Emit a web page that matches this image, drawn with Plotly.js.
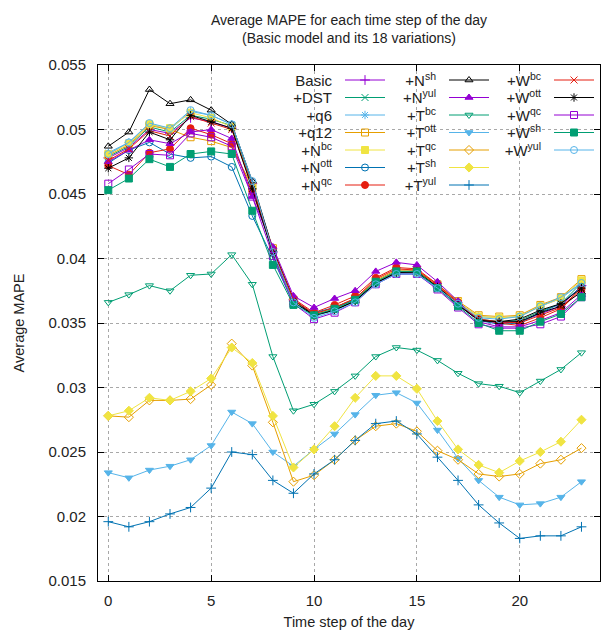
<!DOCTYPE html>
<html>
<head>
<meta charset="utf-8">
<script src="https://cdn.plot.ly/plotly-3.0.1.min.js"></script>
<style>
  html, body { margin: 0; padding: 0; background: #fff; }
  #chart { width: 614px; height: 630px; }
</style>
</head>
<body>
<div id="chart"></div>
<script>
// Time steps of the day
const hours = [0, 1, 2, 3, 4, 5, 6, 7, 8, 9, 10, 11, 12, 13, 14, 15, 16, 17, 18, 19, 20, 21, 22, 23];

// Average MAPE per time step for the basic model and its variations
const basic = [0.0478, 0.0486, 0.0500, 0.0497, 0.0509, 0.0506, 0.0501, 0.0458, 0.0405, 0.0368, 0.0357, 0.0362, 0.0369, 0.0382, 0.0390, 0.0390, 0.0378, 0.0364, 0.0352, 0.0350, 0.0351, 0.0357, 0.0363, 0.0379];
const dst   = [0.0479, 0.0487, 0.0502, 0.0498, 0.0511, 0.0508, 0.0503, 0.0457, 0.0404, 0.0367, 0.0356, 0.0361, 0.0368, 0.0382, 0.0390, 0.0390, 0.0378, 0.0365, 0.0353, 0.0351, 0.0352, 0.0359, 0.0365, 0.0381];
const q6    = [0.0482, 0.0490, 0.0504, 0.0500, 0.0514, 0.0511, 0.0504, 0.0459, 0.0406, 0.0368, 0.0355, 0.0360, 0.0367, 0.0381, 0.0389, 0.0389, 0.0378, 0.0366, 0.0355, 0.0354, 0.0355, 0.0363, 0.0369, 0.0381];
const q12   = [0.0480, 0.0488, 0.0503, 0.0500, 0.0494, 0.0491, 0.0486, 0.0456, 0.0408, 0.0368, 0.0356, 0.0362, 0.0369, 0.0383, 0.0391, 0.0391, 0.0380, 0.0367, 0.0356, 0.0355, 0.0356, 0.0364, 0.0370, 0.0384];
const nBc   = [0.0481, 0.0489, 0.0504, 0.0501, 0.0513, 0.0509, 0.0502, 0.0455, 0.0405, 0.0367, 0.0357, 0.0361, 0.0368, 0.0382, 0.0390, 0.0390, 0.0379, 0.0366, 0.0355, 0.0354, 0.0355, 0.0363, 0.0369, 0.0383];
const nOtt  = [0.0474, 0.0484, 0.0490, 0.0481, 0.0478, 0.0479, 0.0471, 0.0433, 0.0400, 0.0365, 0.0358, 0.0362, 0.0368, 0.0381, 0.0388, 0.0388, 0.0377, 0.0364, 0.0352, 0.0349, 0.0350, 0.0358, 0.0365, 0.0378];
const nQc   = [0.0472, 0.0465, 0.0482, 0.0485, 0.0501, 0.0496, 0.0489, 0.0452, 0.0407, 0.0369, 0.0358, 0.0364, 0.0371, 0.0385, 0.0393, 0.0392, 0.0380, 0.0366, 0.0353, 0.0350, 0.0348, 0.0354, 0.0361, 0.0376];
const nSh   = [0.0487, 0.0498, 0.0531, 0.0520, 0.0523, 0.0515, 0.0504, 0.0460, 0.0407, 0.0368, 0.0356, 0.0360, 0.0367, 0.0381, 0.0389, 0.0389, 0.0378, 0.0365, 0.0352, 0.0351, 0.0351, 0.0358, 0.0363, 0.0374];
const nYul  = [0.0475, 0.0484, 0.0492, 0.0489, 0.0498, 0.0500, 0.0493, 0.0448, 0.0409, 0.0371, 0.0362, 0.0369, 0.0375, 0.0390, 0.0397, 0.0395, 0.0382, 0.0367, 0.0351, 0.0347, 0.0347, 0.0352, 0.0358, 0.0372];
const tBc   = [0.0366, 0.0372, 0.0379, 0.0375, 0.0387, 0.0388, 0.0403, 0.0380, 0.0324, 0.0282, 0.0287, 0.0297, 0.0309, 0.0324, 0.0331, 0.0329, 0.0321, 0.0311, 0.0303, 0.0301, 0.0296, 0.0305, 0.0314, 0.0327];
const tOtt  = [0.0234, 0.0230, 0.0236, 0.0239, 0.0244, 0.0255, 0.0281, 0.0272, 0.0250, 0.0239, 0.0252, 0.0264, 0.0279, 0.0294, 0.0296, 0.0288, 0.0267, 0.0245, 0.0228, 0.0215, 0.0209, 0.0210, 0.0215, 0.0227];
const tQc   = [0.0278, 0.0277, 0.0290, 0.0290, 0.0291, 0.0302, 0.0334, 0.0317, 0.0273, 0.0227, 0.0232, 0.0244, 0.0259, 0.0270, 0.0272, 0.0266, 0.0251, 0.0244, 0.0233, 0.0231, 0.0233, 0.0241, 0.0244, 0.0253];
const tSh   = [0.0278, 0.0282, 0.0292, 0.0290, 0.0297, 0.0307, 0.0331, 0.0319, 0.0278, 0.0238, 0.0252, 0.0270, 0.0292, 0.0309, 0.0309, 0.0299, 0.0274, 0.0252, 0.0240, 0.0234, 0.0243, 0.0250, 0.0258, 0.0275];
const tYul  = [0.0196, 0.0192, 0.0196, 0.0202, 0.0207, 0.0222, 0.0250, 0.0248, 0.0228, 0.0218, 0.0233, 0.0244, 0.0259, 0.0272, 0.0274, 0.0264, 0.0246, 0.0228, 0.0209, 0.0195, 0.0183, 0.0185, 0.0185, 0.0192];
const wBc   = [0.0476, 0.0485, 0.0499, 0.0495, 0.0510, 0.0505, 0.0500, 0.0456, 0.0406, 0.0368, 0.0357, 0.0362, 0.0369, 0.0384, 0.0392, 0.0391, 0.0379, 0.0365, 0.0353, 0.0351, 0.0350, 0.0356, 0.0362, 0.0377];
const wOtt  = [0.0470, 0.0478, 0.0498, 0.0492, 0.0511, 0.0506, 0.0501, 0.0454, 0.0404, 0.0366, 0.0356, 0.0360, 0.0367, 0.0381, 0.0389, 0.0390, 0.0378, 0.0364, 0.0352, 0.0351, 0.0353, 0.0360, 0.0365, 0.0377];
const wQc   = [0.0458, 0.0469, 0.0481, 0.0480, 0.0497, 0.0494, 0.0487, 0.0448, 0.0402, 0.0365, 0.0353, 0.0358, 0.0366, 0.0380, 0.0388, 0.0388, 0.0376, 0.0362, 0.0349, 0.0346, 0.0346, 0.0349, 0.0355, 0.0370];
const wSh   = [0.0453, 0.0462, 0.0477, 0.0471, 0.0481, 0.0483, 0.0481, 0.0437, 0.0395, 0.0364, 0.0356, 0.0361, 0.0368, 0.0382, 0.0390, 0.0390, 0.0377, 0.0363, 0.0350, 0.0344, 0.0344, 0.0351, 0.0357, 0.0370];
const wYul  = [0.0481, 0.0490, 0.0505, 0.0501, 0.0515, 0.0511, 0.0504, 0.0460, 0.0405, 0.0366, 0.0354, 0.0359, 0.0366, 0.0380, 0.0388, 0.0388, 0.0377, 0.0365, 0.0354, 0.0353, 0.0355, 0.0363, 0.0370, 0.0381];

// Series names (legend labels), in plotting order
const seriesNames = ['Basic', '+DST', '+q6', '+q12',
  '+N<sup>bc</sup>', '+N<sup>ott</sup>', '+N<sup>qc</sup>', '+N<sup>sh</sup>', '+N<sup>yul</sup>',
  '+T<sup>bc</sup>', '+T<sup>ott</sup>', '+T<sup>qc</sup>', '+T<sup>sh</sup>', '+T<sup>yul</sup>',
  '+W<sup>bc</sup>', '+W<sup>ott</sup>', '+W<sup>qc</sup>', '+W<sup>sh</sup>', '+W<sup>yul</sup>'];
const seriesValues = [basic, dst, q6, q12, nBc, nOtt, nQc, nSh, nYul,
  tBc, tOtt, tQc, tSh, tYul, wBc, wOtt, wQc, wSh, wYul];

// Line colours cycle through 8, point symbols through 13
const palette = ['#9400d3', '#009e73', '#56b4e9', '#e69f00', '#f0e442', '#0072b2', '#e51e10', '#000000'];
const symbols = ['cross-thin-open', 'x-thin-open', 'asterisk-open', 'square-open', 'square',
  'circle-open', 'circle', 'triangle-up-open', 'triangle-up', 'triangle-down-open',
  'triangle-down', 'diamond-open', 'diamond'];

const FONT = '"Liberation Sans", Arial, sans-serif';

const traces = seriesNames.map((name, i) => {
  const color = palette[i % palette.length];
  const sym = symbols[i % symbols.length];
  const legendId = i < 7 ? 'legend' : (i < 14 ? 'legend2' : 'legend3');
  return {
    x: hours,
    y: seriesValues[i],
    name: name,
    type: 'scatter',
    mode: 'lines+markers',
    legend: legendId,
    line: { color: color, width: 1 },
    marker: {
      symbol: sym,
      color: color,
      size: 7,
      line: { color: color, width: 1 }
    }
  };
});

// Keys start inside the plot area; they are moved into their columns after drawing
const legendBase = {
  font: { family: FONT, size: 15, color: '#222' },
  bgcolor: 'rgba(0,0,0,0)',
  borderwidth: 0,
  itemwidth: 40,
  yanchor: 'top',
  xanchor: 'left',
  tracegroupgap: 0,
  x: 0.3,
  y: 0.95
};

const layout = {
  width: 614,
  height: 630,
  margin: { l: 98, r: 14, t: 65, b: 49 },
  paper_bgcolor: '#ffffff',
  plot_bgcolor: '#ffffff',
  font: { family: FONT, size: 14.5, color: '#222' },
  title: {
    text: 'Average MAPE for each time step of the day<br>(Basic model and its 18 variations)',
    font: { family: FONT, size: 14, color: '#222' },
    x: 0.5, xref: 'paper', xanchor: 'center',
    y: 0.96, yref: 'container', yanchor: 'bottom'
  },
  xaxis: {
    range: [-0.5, 23.9],
    tickvals: [0, 5, 10, 15, 20],
    ticks: 'inside', ticklen: 6, tickcolor: '#000',
    showline: true, linecolor: '#000', linewidth: 1, mirror: 'ticks',
    showgrid: true, gridcolor: '#a8a8a8', griddash: 'dot', gridwidth: 1,
    zeroline: false,
    tickfont: { family: FONT, size: 15, color: '#222' },
    ticklabelstandoff: 6,
    title: { text: 'Time step of the day', font: { family: FONT, size: 14.5, color: '#222' }, standoff: 12 },
    automargin: false
  },
  yaxis: {
    range: [0.015, 0.055],
    tickvals: [0.015, 0.02, 0.025, 0.03, 0.035, 0.04, 0.045, 0.05, 0.055],
    ticktext: ['0.015', '0.02', '0.025', '0.03', '0.035', '0.04', '0.045', '0.05', '0.055'],
    ticks: 'inside', ticklen: 6, tickcolor: '#000',
    showline: true, linecolor: '#000', linewidth: 1, mirror: 'ticks',
    showgrid: true, gridcolor: '#a8a8a8', griddash: 'dot', gridwidth: 1,
    zeroline: false,
    tickfont: { family: FONT, size: 15, color: '#222' },
    ticklabelstandoff: 8,
    title: { text: 'Average MAPE', font: { family: FONT, size: 14.5, color: '#222' }, standoff: 20 },
    automargin: false
  },
  legend: Object.assign({}, legendBase),
  legend2: Object.assign({}, legendBase),
  legend3: Object.assign({}, legendBase),
  showlegend: true
};

// Column positions of the key samples (centre of the first sample, in pixels)
const keyColumns = { legend: [365, 80], legend2: [469, 80], legend3: [574, 80] };
const KEY_ROW = 17.5;
const TEXT_RIGHT = -8;   // label right edge, relative to the sample's left end

function arrangeKeys() {
  const gd = document.getElementById('chart');
  const host = gd.getBoundingClientRect();
  Object.keys(keyColumns).forEach(id => {
    const lg = gd.querySelector('g.' + id);
    if (!lg) return;
    lg.querySelectorAll('[clip-path]').forEach(el => el.removeAttribute('clip-path'));
    const items = Array.from(lg.querySelectorAll('g.traces'));
    if (!items.length) return;
    let y0 = null;
    items.forEach((it, k) => {
      const m = /translate\(([^,]+),\s*([^)]+)\)/.exec(it.getAttribute('transform') || '');
      if (m) {
        if (y0 === null) y0 = parseFloat(m[2]);
        const want = 'translate(' + m[1] + ',' + (y0 + k * KEY_ROW) + ')';
        if (it.getAttribute('transform') !== want) it.setAttribute('transform', want);
      }
      // label goes to the left of its sample, right-aligned
      // (each key names its label class after itself: legendtext, legend2text, ...)
      const t = it.querySelector('text');
      if (t && t.getAttribute('text-anchor') !== 'end') {
        t.setAttribute('x', TEXT_RIGHT);
        t.setAttribute('text-anchor', 'end');
        t.style.setProperty('text-anchor', 'end', 'important');
        t.querySelectorAll('tspan[x]').forEach(s => s.setAttribute('x', TEXT_RIGHT));
      }
    });
    // shift the whole key so the first sample lands on its column
    const line = items[0].querySelector('.legendlines path');
    const pt = line || items[0].querySelector('.legendpoints path');
    if (!pt) return;
    const r = pt.getBoundingClientRect();
    const cx = r.left + r.width / 2 - host.left;
    const cy = r.top + r.height / 2 - host.top;
    const dx = keyColumns[id][0] - cx;
    const dy = keyColumns[id][1] - cy;
    if (Math.abs(dx) < 0.01 && Math.abs(dy) < 0.01) return;
    const m = /translate\(([^,]+),\s*([^)]+)\)/.exec(lg.getAttribute('transform') || 'translate(0,0)');
    lg.setAttribute('transform', 'translate(' + (parseFloat(m[1]) + dx) + ',' + (parseFloat(m[2]) + dy) + ')');
  });
}

Plotly.newPlot('chart', traces, layout, { staticPlot: true, displayModeBar: false }).then(gd => {
  arrangeKeys();
  const obs = new MutationObserver(() => arrangeKeys());
  obs.observe(gd, { childList: true, subtree: true, characterData: true });
  gd.on('plotly_afterplot', arrangeKeys);
  setTimeout(arrangeKeys, 100);
  setTimeout(arrangeKeys, 400);
});
</script>
</body>
</html>
